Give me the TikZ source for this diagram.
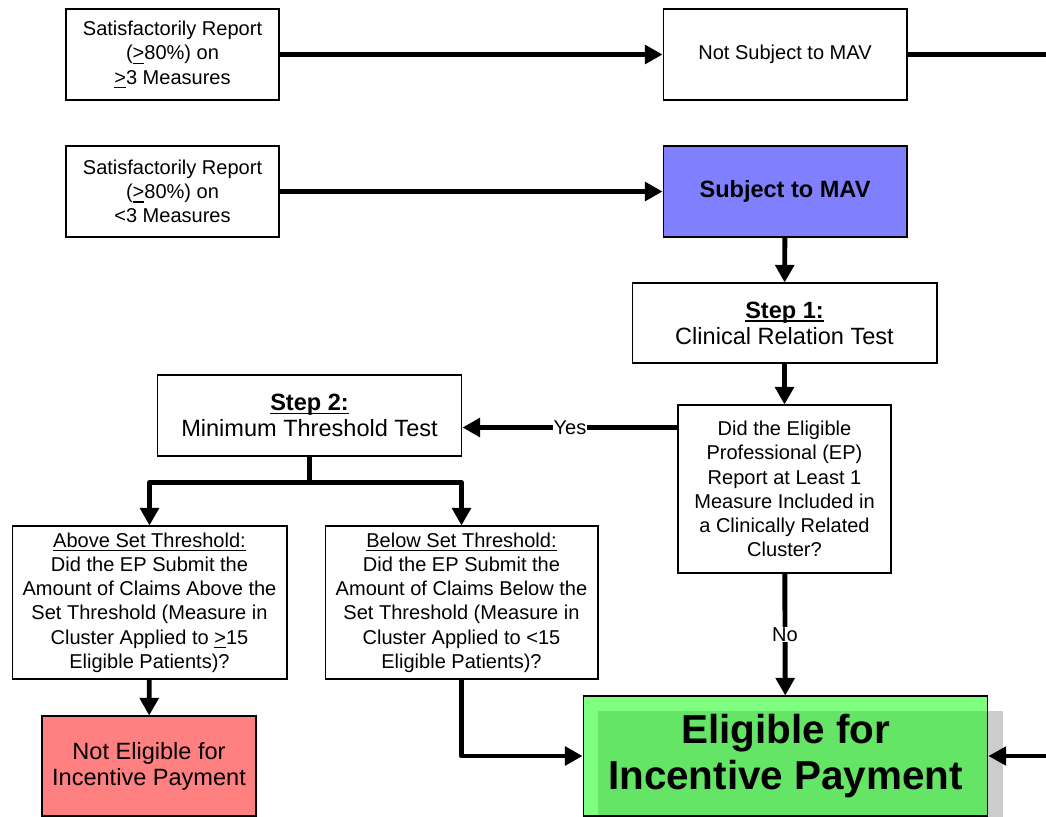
\documentclass[tikz,border=0pt]{standalone}
\usepackage{fontspec}
\setmainfont{Liberation Sans}
\usetikzlibrary{arrows.meta}
\definecolor{mavblue}{HTML}{8080FF}
\definecolor{nored}{HTML}{FF8080}
\newcommand{\undl}[2][0.6pt]{\setbox0\hbox{#2}\rlap{\rule[-2.2pt]{\wd0}{#1}}\box0\relax}
\tikzset{
  box/.style={draw, fill=white, line width=0.6pt, align=center, inner sep=2pt,
    font=\fontsize{11.4pt}{13.8pt}\selectfont},
  stepbox/.style={box, font=\fontsize{13.4pt}{14.8pt}\selectfont},
  arr/.style={line width=2.8pt, line join=round, -{Triangle[length=10pt,width=10.5pt]}},
  lbl/.style={fill=white, inner sep=0.5pt, font=\fontsize{11.4pt}{13.6pt}\selectfont}
}
\begin{document}
\begin{tikzpicture}[x=0.02cm,y=-0.02cm]
\useasboundingbox (0,0) rectangle (1046,816);
%caixas da esquerda
  \node[box, minimum width=4.26cm, minimum height=1.82cm] (sat1) at (172.5,54.5)
    {Satisfactorily Report\\(\undl{>}80\%) on\\\undl{>}3 Measures};
  \node[box, minimum width=4.26cm, minimum height=1.82cm] (sat2) at (172.5,191.5)
    {Satisfactorily Report\\(\undl{>}80\%) on\\<3 Measures};
%caixas MAV
  \node[box, minimum width=4.88cm, minimum height=1.82cm] (notsub) at (785,54.5) {Not Subject to MAV};
  \node[stepbox, fill=mavblue, minimum width=4.88cm, minimum height=1.82cm] (subj) at (785,191.5)
    {\textbf{Subject to MAV}};
%passos
  \node[stepbox, minimum width=6.1cm, minimum height=1.6cm] (step1) at (784.5,323)
    {\undl[0.9pt]{\textbf{Step 1:}}\\Clinical Relation Test};
  \node[box, minimum width=4.26cm, minimum height=3.36cm] (decide) at (784.5,489)
    {Did the Eligible\\Professional (EP)\\Report at Least 1\\Measure Included in\\a Clinically Related\\Cluster?};
  \node[stepbox, minimum width=6.1cm, minimum height=1.62cm] (step2) at (309.5,415.5)
    {\undl[0.9pt]{\textbf{Step 2:}}\\Minimum Threshold Test};
  \node[box, minimum width=5.5cm, minimum height=3.06cm] (above) at (149.5,602.5)
    {\undl{Above Set Threshold:}\\Did the EP Submit the\\Amount of Claims Above the\\Set Threshold (Measure in\\Cluster Applied to \undl{>}15\\Eligible Patients)?};
  \node[box, minimum width=5.46cm, minimum height=3.06cm] (below) at (461.5,602.5)
    {\undl{Below Set Threshold:}\\Did the EP Submit the\\Amount of Claims Below the\\Set Threshold (Measure in\\Cluster Applied to <15\\Eligible Patients)?};
%resultados
  \node[stepbox, fill=nored, minimum width=4.28cm, minimum height=2cm] (noteli) at (149,766)
    {Not Eligible for\\Incentive Payment};
  \fill[gray!40] (598,711) rectangle (1003,840);
  \node[box, fill=green, fill opacity=0.5, text opacity=1, minimum width=8.1cm, minimum height=2.4cm,
    font=\fontsize{23pt}{26.6pt}\selectfont\bfseries] (elig) at (785.5,756)
    {Eligible for\\Incentive Payment};
%ligacoes
  \coordinate (edgetop) at (1046,54.5);
  \coordinate (edgebot) at (1046,756);
  \draw[arr] (sat1) -- (notsub);
  \draw[line width=2.8pt] (notsub.east) -- (edgetop);
  \draw[arr] (sat2) -- (subj);
  \draw[arr] (subj) -- (step1);
  \draw[arr] (step1) -- (decide);
  \path ([yshift=-0.46cm]decide.north west) coordinate (yesfrom);
  \draw[arr] (yesfrom) -- node[lbl] {Yes} (yesfrom -| step2.east);
  \draw[arr] (decide) -- node[lbl] {No} (elig);
  \draw[arr] (step2.south) -- ++(0,26) -| (above.north);
  \draw[arr] (step2.south) -- ++(0,26) -| (below.north);
  \draw[arr] (above) -- (noteli);
  \draw[arr] (below.south) |- (elig.west);
  \draw[arr, line width=2pt] (edgebot) -- (elig.east);
\end{tikzpicture}
\end{document}
